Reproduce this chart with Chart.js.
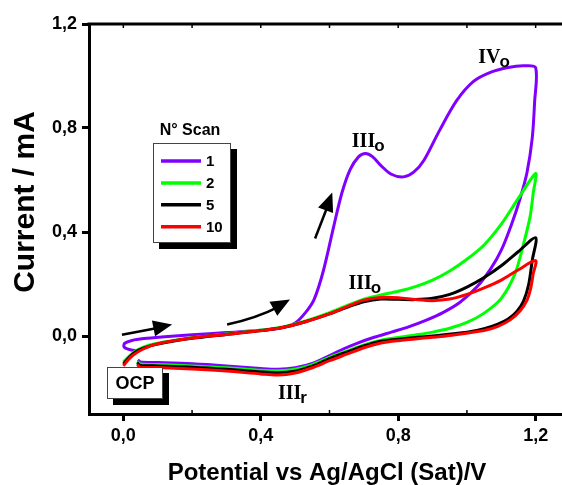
<!DOCTYPE html>
<html>
<head>
<meta charset="utf-8">
<script src="https://cdn.jsdelivr.net/npm/chart.js@4.4.1/dist/chart.umd.min.js"></script>
<style>
  html, body { margin: 0; padding: 0; background: #fff; overflow: hidden; }
  canvas { display: block; }
</style>
</head>
<body>
<canvas id="cvChart" width="600" height="485"></canvas>
<script>
// axis tick values
const potentialTicks = [0, 0.4, 0.8, 1.2];
const currentTicks = [0, 0.4, 0.8, 1.2];

// scan numbers shown in the legend
const scanLabels = ["1", "2", "5", "10"];

// scan 1 : anodic sweep then return sweep
const scan1Potential = [0.045, 0.02, 0.002, 0.004, 0.025, 0.06, 0.12, 0.2, 0.3, 0.4, 0.46, 0.5, 0.53, 0.555, 0.582, 0.612, 0.636, 0.66, 0.685, 0.705, 0.725, 0.75, 0.78, 0.815, 0.845, 0.875, 0.92, 0.97, 1.02, 1.07, 1.12, 1.165, 1.2,
  1.197, 1.19, 1.175, 1.155, 1.13, 1.1, 1.07, 1.03, 0.98, 0.93, 0.88, 0.83, 0.78, 0.73, 0.68, 0.64, 0.6, 0.55, 0.5, 0.45, 0.4, 0.3, 0.2, 0.1, 0.05, 0.042];
const scan1Current = [-0.057, -0.053, -0.042, -0.028, -0.017, -0.01, -0.003, 0.005, 0.013, 0.022, 0.032, 0.05, 0.09, 0.14, 0.25, 0.42, 0.55, 0.64, 0.69, 0.702, 0.69, 0.655, 0.622, 0.612, 0.63, 0.676, 0.79, 0.905, 0.98, 1.015, 1.033, 1.039, 1.032,
  0.9, 0.76, 0.63, 0.53, 0.43, 0.33, 0.26, 0.19, 0.13, 0.09, 0.06, 0.035, 0.015, -0.005, -0.028, -0.05, -0.075, -0.105, -0.122, -0.128, -0.125, -0.115, -0.107, -0.102, -0.1, -0.092];

// scan 2
const scan2Potential = [0.0, 0.015, 0.035, 0.06, 0.1, 0.2, 0.3, 0.37, 0.46, 0.53, 0.6, 0.66, 0.7, 0.75, 0.8, 0.85, 0.9, 0.95, 1.0, 1.05, 1.1, 1.15, 1.2,
  1.193, 1.184, 1.165, 1.14, 1.1, 1.05, 1.0, 0.95, 0.9, 0.85, 0.8, 0.75, 0.7, 0.65, 0.6, 0.55, 0.5, 0.45, 0.4, 0.3, 0.2, 0.1, 0.05, 0.04];
const scan2Current = [-0.1, -0.08, -0.058, -0.042, -0.028, -0.007, 0.008, 0.018, 0.034, 0.058, 0.09, 0.122, 0.142, 0.158, 0.172, 0.19, 0.215, 0.25, 0.295, 0.35, 0.43, 0.53, 0.625,
  0.55, 0.46, 0.355, 0.24, 0.145, 0.088, 0.052, 0.03, 0.015, 0.004, -0.006, -0.016, -0.034, -0.058, -0.082, -0.11, -0.128, -0.134, -0.132, -0.122, -0.115, -0.11, -0.108, -0.098];

// scan 5
const scan5Potential = [0.0, 0.015, 0.035, 0.06, 0.1, 0.2, 0.3, 0.37, 0.46, 0.53, 0.6, 0.66, 0.7, 0.75, 0.8, 0.85, 0.9, 0.95, 1.0, 1.05, 1.1, 1.15, 1.2,
  1.19, 1.18, 1.165, 1.146, 1.12, 1.09, 1.05, 1.0, 0.9, 0.8, 0.75, 0.7, 0.65, 0.6, 0.55, 0.5, 0.45, 0.4, 0.3, 0.2, 0.1, 0.05, 0.04];
const scan5Current = [-0.108, -0.085, -0.062, -0.046, -0.031, -0.009, 0.006, 0.016, 0.032, 0.055, 0.085, 0.115, 0.132, 0.142, 0.141, 0.14, 0.145, 0.16, 0.188, 0.225, 0.27, 0.325, 0.378,
  0.29, 0.2, 0.135, 0.095, 0.065, 0.046, 0.028, 0.014, 0.0, -0.012, -0.02, -0.038, -0.062, -0.087, -0.116, -0.135, -0.141, -0.138, -0.128, -0.12, -0.115, -0.113, -0.103];

// scan 10
const scan10Potential = [0.0, 0.015, 0.03, 0.058, 0.097, 0.194, 0.3, 0.37, 0.46, 0.53, 0.6, 0.66, 0.7, 0.75, 0.8, 0.85, 0.9, 0.95, 1.0, 1.05, 1.1, 1.15, 1.2,
  1.193, 1.185, 1.175, 1.155, 1.126, 1.09, 1.05, 0.95, 0.9, 0.8, 0.75, 0.7, 0.65, 0.6, 0.55, 0.5, 0.45, 0.4, 0.3, 0.2, 0.1, 0.05, 0.04];
const scan10Current = [-0.115, -0.09, -0.072, -0.05, -0.031, -0.009, 0.006, 0.016, 0.032, 0.055, 0.085, 0.118, 0.138, 0.148, 0.147, 0.14, 0.136, 0.142, 0.16, 0.185, 0.215, 0.255, 0.29,
  0.24, 0.18, 0.138, 0.097, 0.062, 0.037, 0.021, 0.002, -0.005, -0.018, -0.027, -0.045, -0.07, -0.095, -0.122, -0.142, -0.15, -0.146, -0.135, -0.127, -0.121, -0.12, -0.11];

const scanColors = ["#8000ff", "#00ff00", "#000000", "#ff0000"];

function pairs(xs, ys) {
  return xs.map((x, i) => ({ x: x, y: ys[i] }));
}

function commaLabel(v) {
  return v.toFixed(1).replace(".", ",");
}

function arrowHead(ctx, x0, y0, x1, y1, len, half) {
  const a = Math.atan2(y1 - y0, x1 - x0);
  ctx.beginPath();
  ctx.moveTo(x1, y1);
  ctx.lineTo(x1 - len * Math.cos(a) + half * Math.sin(a), y1 - len * Math.sin(a) - half * Math.cos(a));
  ctx.lineTo(x1 - len * Math.cos(a) - half * Math.sin(a), y1 - len * Math.sin(a) + half * Math.cos(a));
  ctx.closePath();
  ctx.fill();
}

function peakLabel(ctx, x, y, main, sub) {
  ctx.font = "bold 20px 'Liberation Serif', serif";
  ctx.textAlign = "left";
  ctx.textBaseline = "alphabetic";
  ctx.fillText(main, x, y);
  const w = ctx.measureText(main).width;
  ctx.font = "bold 17px 'Liberation Sans', Arial, sans-serif";
  ctx.fillText(sub, x + w - 1, y + 4);
}

const decor = {
  id: "decor",
  afterDraw(chart) {
    const ctx = chart.ctx;
    const area = chart.chartArea;
    const px = v => chart.scales.x.getPixelForValue(v);
    const py = v => chart.scales.y.getPixelForValue(v);
    ctx.save();
    ctx.fillStyle = "#000";
    ctx.strokeStyle = "#000";

    // top frame with small inward ticks
    ctx.lineWidth = 3;
    ctx.beginPath();
    ctx.moveTo(area.left - 1.5, area.top);
    ctx.lineTo(area.right, area.top);
    ctx.stroke();
    ctx.lineWidth = 1.5;
    for (let v = 0; v <= 1.21; v += 0.2) {
      ctx.beginPath();
      ctx.moveTo(px(v), area.top);
      ctx.lineTo(px(v), area.top + 4);
      ctx.stroke();
    }
    [0.2, 0.6, 1.0].forEach(v => {
      ctx.beginPath();
      ctx.moveTo(px(v), area.bottom);
      ctx.lineTo(px(v), area.bottom - 4);
      ctx.stroke();
    });

    // axis titles
    ctx.textAlign = "center";
    ctx.textBaseline = "middle";
    ctx.font = "bold 24px 'Liberation Sans', Arial, sans-serif";
    ctx.fillText("Potential vs Ag/AgCl (Sat)/V", 327, 473);
    ctx.save();
    ctx.translate(26, 202);
    ctx.rotate(-Math.PI / 2);
    ctx.font = "bold 30px 'Liberation Sans', Arial, sans-serif";
    ctx.fillText("Current / mA", 0, 0);
    ctx.restore();

    // legend box with shadow
    ctx.fillRect(159, 149, 78, 100);
    ctx.fillStyle = "#fff";
    ctx.fillRect(153, 143, 78, 100);
    ctx.lineWidth = 1;
    ctx.strokeStyle = "#444";
    ctx.strokeRect(153.5, 143.5, 77, 99);
    ctx.fillStyle = "#000";
    ctx.font = "bold 16px 'Liberation Sans', Arial, sans-serif";
    ctx.fillText("N\u00b0 Scan", 190, 131);
    chart.data.datasets.forEach((ds, i) => {
      const y = 161 + i * 21.9;
      ctx.strokeStyle = ds.borderColor;
      ctx.lineWidth = 3.5;
      ctx.beginPath();
      ctx.moveTo(161, y);
      ctx.lineTo(201, y);
      ctx.stroke();
      ctx.textAlign = "left";
      ctx.font = "bold 15px 'Liberation Sans', Arial, sans-serif";
      ctx.fillText(ds.label, 206, y + 1);
    });

    // OCP box
    ctx.fillStyle = "#000";
    ctx.fillRect(113, 373, 56, 32);
    ctx.fillStyle = "#fff";
    ctx.fillRect(107, 367, 56, 32);
    ctx.strokeStyle = "#444";
    ctx.lineWidth = 1;
    ctx.strokeRect(107.5, 367.5, 55, 31);
    ctx.fillStyle = "#000";
    ctx.textAlign = "center";
    ctx.font = "bold 18px 'Liberation Sans', Arial, sans-serif";
    ctx.fillText("OCP", 135, 384);

    // peak labels
    peakLabel(ctx, px(0.665), py(0.728), "III", "o");
    peakLabel(ctx, px(1.033), py(1.05), "IV", "o");
    peakLabel(ctx, px(0.655), py(0.182), "III", "o");
    peakLabel(ctx, px(0.45), py(-0.241), "III", "r");

    // sweep direction arrows
    ctx.strokeStyle = "#000";
    ctx.fillStyle = "#000";
    ctx.lineWidth = 2.5;
    let x0 = px(-0.004), y0 = py(0.005), x1 = px(0.142), y1 = py(0.044);
    ctx.beginPath();
    ctx.moveTo(x0, y0);
    ctx.lineTo(x1 - 12, y1 + 3);
    ctx.stroke();
    arrowHead(ctx, x0, y0, x1, y1, 19, 8);

    x0 = px(0.302); y0 = py(0.044);
    const cx = px(0.39), cy = py(0.07);
    x1 = px(0.485); y1 = py(0.14);
    ctx.beginPath();
    ctx.moveTo(x0, y0);
    ctx.quadraticCurveTo(cx, cy, x1 - 11, y1 + 7);
    ctx.stroke();
    arrowHead(ctx, cx, cy, x1, y1, 19, 8);

    x0 = px(0.558); y0 = py(0.375); x1 = px(0.608); y1 = py(0.552);
    ctx.beginPath();
    ctx.moveTo(x0, y0);
    ctx.lineTo(x1 - 4, y1 + 12);
    ctx.stroke();
    arrowHead(ctx, x0, y0, x1, y1, 19, 8);

    ctx.restore();
  }
};

const series = [
  [scan1Potential, scan1Current],
  [scan2Potential, scan2Current],
  [scan5Potential, scan5Current],
  [scan10Potential, scan10Current]
];

new Chart(document.getElementById("cvChart"), {
  type: "scatter",
  data: {
    datasets: series.map((s, i) => ({
      label: scanLabels[i],
      data: pairs(s[0], s[1]),
      showLine: true,
      borderColor: scanColors[i],
      borderWidth: 3,
      pointRadius: 0,
      tension: 0.3,
      fill: false,
      order: series.length - i
    }))
  },
  options: {
    responsive: false,
    animation: false,
    layout: { padding: { left: 0, top: 24, right: 30, bottom: 0 } },
    plugins: { legend: { display: false }, tooltip: { enabled: false } },
    scales: {
      x: {
        type: "linear",
        min: -0.1,
        max: 1.3,
        afterBuildTicks: scale => { scale.ticks = potentialTicks.map(v => ({ value: v })); },
        afterFit: scale => { scale.height = 71; },
        grid: { drawOnChartArea: false, drawTicks: true, tickLength: 7, tickWidth: 3, tickColor: "#000" },
        border: { color: "#000", width: 3 },
        ticks: {
          color: "#000",
          padding: 4,
          maxRotation: 0,
          font: { family: "'Liberation Sans', Arial, sans-serif", size: 18, weight: "bold" },
          callback: v => commaLabel(v)
        }
      },
      y: {
        type: "linear",
        min: -0.3,
        max: 1.2,
        afterBuildTicks: scale => { scale.ticks = currentTicks.map(v => ({ value: v })); },
        afterFit: scale => { scale.width = 89; },
        grid: { drawOnChartArea: false, drawTicks: true, tickLength: 7, tickWidth: 3, tickColor: "#000" },
        border: { color: "#000", width: 3 },
        ticks: {
          color: "#000",
          padding: 5,
          font: { family: "'Liberation Sans', Arial, sans-serif", size: 18, weight: "bold" },
          callback: v => commaLabel(v)
        }
      }
    }
  },
  plugins: [decor]
});
</script>
</body>
</html>
